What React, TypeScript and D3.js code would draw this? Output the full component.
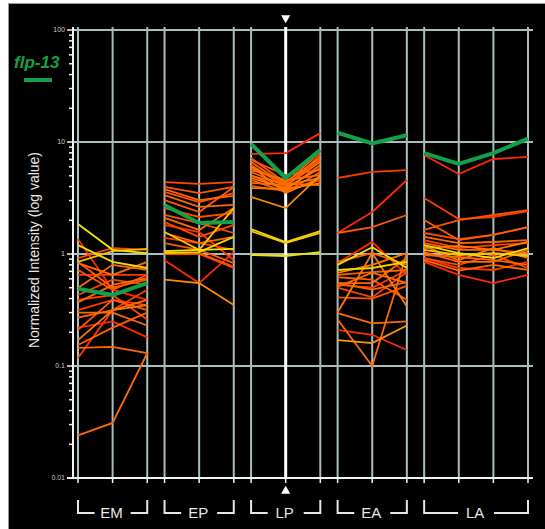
import React, { useEffect, useRef } from 'react';
import * as d3 from 'd3';

// stages and how many time points each has
const stages = ['EM', 'EP', 'LP', 'EA', 'LA'];
const stagePoints = [3, 3, 3, 3, 4];

// line values per stage, level = colour position (0 yellow -> 1 red)
const emLines = [
  { v: [1.85, 1.09, 1.02], level: 0 },
  { v: [1.2, 0.85, 0.75], level: 0.05 },
  { v: [0.85, 1.06, 1.11], level: 0.25 },
  { v: [1.36, 0.48, 0.39], level: 1 },
  { v: [0.92, 1.13, 1.09], level: 0.8 },
  { v: [0.83, 0.65, 0.85], level: 0.6 },
  { v: [0.65, 0.65, 0.65], level: 0.9 },
  { v: [0.5, 0.8, 0.72], level: 0.6 },
  { v: [0.43, 0.59, 0.53], level: 0.85 },
  { v: [0.37, 0.53, 0.61], level: 0.6 },
  { v: [0.316, 0.39, 0.35], level: 0.9 },
  { v: [0.3, 0.3, 0.23], level: 0.6 },
  { v: [0.22, 0.25, 0.18], level: 1 },
  { v: [0.17, 0.316, 0.35], level: 0.55 },
  { v: [0.118, 0.316, 0.48], level: 0.9 },
  { v: [0.154, 0.22, 0.3], level: 0.65 },
  { v: [0.145, 0.148, 0.13], level: 0.6 },
  { v: [0.024, 0.031, 0.13], level: 0.6 },
  { v: [0.85, 0.5, 0.59], level: 0.7 },
  { v: [0.72, 0.48, 0.65], level: 0.75 },
  { v: [0.39, 0.43, 0.26], level: 0.85 },
  { v: [0.27, 0.316, 0.39], level: 0.6 },
  { v: [0.21, 0.39, 0.316], level: 0.7 },
];

const epLines = [
  { v: [4.39, 4.22, 4.39], level: 0.8 },
  { v: [3.97, 3.5, 3.97], level: 0.7 },
  { v: [3.58, 2.91, 3.5], level: 0.75 },
  { v: [3.36, 2.63, 2.74], level: 0.6 },
  { v: [3.03, 2.37, 3.97], level: 0.7 },
  { v: [2.57, 2.14, 2.32], level: 0.8 },
  { v: [2.23, 1.89, 1.54], level: 0.75 },
  { v: [2.1, 1.64, 2.57], level: 0.6 },
  { v: [1.93, 1.42, 1.82], level: 0.85 },
  { v: [1.57, 1.09, 2.57], level: 0.2 },
  { v: [1.54, 1.25, 1.42], level: 0.6 },
  { v: [1.39, 1.25, 1.09], level: 0.9 },
  { v: [1.25, 1.09, 0.83], level: 0.7 },
  { v: [1.06, 1.09, 1.11], level: 0 },
  { v: [1.02, 1.04, 1.42], level: 0.1 },
  { v: [1.04, 1.02, 0.77], level: 0.75 },
  { v: [1.0, 1.0, 0.75], level: 0.85 },
  { v: [0.88, 0.55, 1.04], level: 1 },
  { v: [0.59, 0.55, 0.35], level: 0.45 },
  { v: [3.8, 3.03, 3.3], level: 0.65 },
  { v: [1.82, 1.57, 0.88], level: 0.9 },
];

const lpLines = [
  { v: [7.81, 7.97, 12.0], level: 1 },
  { v: [7.2, 4.3, 8.14], level: 0.7 },
  { v: [6.63, 4.13, 6.9], level: 0.65 },
  { v: [6.23, 3.97, 7.65], level: 0.7 },
  { v: [5.86, 4.39, 7.2], level: 0.6 },
  { v: [5.4, 4.05, 6.63], level: 0.65 },
  { v: [5.07, 3.73, 6.23], level: 0.6 },
  { v: [4.77, 3.88, 5.86], level: 0.55 },
  { v: [4.58, 3.58, 5.4], level: 0.65 },
  { v: [4.3, 4.13, 4.77], level: 0.6 },
  { v: [4.05, 3.65, 4.58], level: 0.7 },
  { v: [3.88, 3.8, 4.3], level: 0.55 },
  { v: [5.62, 4.58, 5.07], level: 0.6 },
  { v: [6.9, 5.07, 5.62], level: 0.75 },
  { v: [4.97, 4.22, 4.13], level: 0.6 },
  { v: [6.1, 3.5, 4.77], level: 0.55 },
  { v: [3.23, 2.57, 5.07], level: 0.45 },
  { v: [1.67, 1.28, 1.6], level: 0.05 },
  { v: [1.6, 1.25, 1.54], level: 0.15 },
  { v: [0.98, 0.96, 1.04], level: 0 },
];

const eaLines = [
  { v: [4.77, 5.4, 5.62], level: 0.9 },
  { v: [1.54, 2.37, 4.58], level: 1 },
  { v: [1.54, 1.74, 2.23], level: 0.7 },
  { v: [0.83, 1.28, 0.65], level: 1 },
  { v: [0.8, 1.15, 0.75], level: 0.05 },
  { v: [0.85, 1.02, 0.8], level: 0.6 },
  { v: [0.72, 0.75, 0.85], level: 0.1 },
  { v: [0.68, 0.8, 1.02], level: 0.55 },
  { v: [0.65, 0.69, 0.72], level: 0.65 },
  { v: [0.55, 0.55, 0.92], level: 0.6 },
  { v: [0.53, 0.5, 0.72], level: 0.9 },
  { v: [0.51, 0.68, 0.55], level: 0.6 },
  { v: [0.41, 0.4, 0.52], level: 0.75 },
  { v: [0.297, 0.24, 0.25], level: 0.6 },
  { v: [0.3, 1.02, 0.34], level: 0.55 },
  { v: [0.26, 0.1, 1.02], level: 0.6 },
  { v: [0.21, 0.19, 0.139], level: 1 },
  { v: [0.17, 0.16, 0.23], level: 0.4 },
  { v: [0.55, 0.48, 0.56], level: 0.65 },
  { v: [0.62, 0.59, 0.39], level: 0.7 },
  { v: [0.5, 0.41, 0.69], level: 0.85 },
];

const laLines = [
  { v: [7.65, 5.18, 7.05, 7.35], level: 1 },
  { v: [3.16, 2.05, 2.14, 2.42], level: 0.9 },
  { v: [2.01, 1.33, 1.48, 1.74], level: 0.7 },
  { v: [1.64, 2.01, 2.23, 2.47], level: 0.75 },
  { v: [1.54, 1.36, 1.48, 1.74], level: 0.8 },
  { v: [1.42, 1.25, 1.28, 1.33], level: 0.6 },
  { v: [1.33, 1.13, 1.2, 1.25], level: 0.85 },
  { v: [1.25, 1.09, 1.09, 1.02], level: 0.6 },
  { v: [1.2, 1.02, 0.92, 1.13], level: 0.05 },
  { v: [1.13, 1.18, 1.09, 1.28], level: 0.55 },
  { v: [1.09, 0.98, 1.02, 0.96], level: 0.2 },
  { v: [1.04, 0.85, 0.85, 1.09], level: 0.6 },
  { v: [0.92, 0.75, 0.72, 0.85], level: 0.95 },
  { v: [0.88, 0.71, 0.8, 0.72], level: 0.6 },
  { v: [0.85, 0.65, 0.55, 0.65], level: 1 },
  { v: [0.98, 0.94, 0.88, 0.8], level: 0.65 },
  { v: [1.18, 0.88, 1.13, 0.92], level: 0.6 },
  { v: [0.92, 0.8, 0.98, 0.75], level: 0.8 },
];

// the highlighted gene, one array per stage
const flp13 = [
  [0.49, 0.43, 0.55],
  [2.74, 1.89, 1.93],
  [9.6, 4.77, 8.48],
  [12.1, 9.73, 11.5],
  [7.97, 6.37, 7.97, 10.7],
];

const stageLines = [emLines, epLines, lpLines, eaLines, laLines];
const decades = [0.01, 0.1, 1, 10, 100];

const App = () => {
  const svgRef = useRef<SVGSVGElement>(null);

  useEffect(() => {
    const width = 545;
    const height = 529;
    const svg = d3.select(svgRef.current);
    svg.selectAll('*').remove();
    svg.attr('width', width).attr('height', height);

    const gridColor = '#a9bdbd';
    const axisColor = '#f2f2f2';
    const font = '"Liberation Sans", Arial, sans-serif';

    svg.append('rect')
      .attr('x', 8.5).attr('y', 3.5)
      .attr('width', width - 8).attr('height', height - 3)
      .attr('fill', '#000')
      .attr('stroke', '#9a9a9a');

    // slot index of each time point, half a step gap between stages
    const slots: number[][] = [];
    let pos = 0;
    stagePoints.forEach(n => {
      slots.push(d3.range(n).map(i => pos + i * 2));
      pos += (n - 1) * 2 + 1;
    });
    const allSlots = slots.flat();

    const x = d3.scaleLinear().domain([0, d3.max(allSlots) as number]).range([78, 528]);
    const y = d3.scaleLog().domain([0.01, 100]).range([478, 30]);

    const top = 27;
    const bottom = y(0.01);

    // horizontal grid
    svg.append('g')
      .selectAll('line')
      .data(decades.filter(d => d > 0.01))
      .enter()
      .append('line')
      .attr('x1', 73).attr('x2', 533)
      .attr('y1', d => y(d)).attr('y2', d => y(d))
      .attr('stroke', gridColor)
      .attr('stroke-width', 2);

    // vertical grid
    const midLP = slots[2][1];
    svg.append('g')
      .selectAll('line')
      .data(allSlots)
      .enter()
      .append('line')
      .attr('x1', d => x(d)).attr('x2', d => x(d))
      .attr('y1', top).attr('y2', bottom)
      .attr('stroke', d => (d === midLP ? '#fff' : gridColor))
      .attr('stroke-width', d => (d === midLP ? 3 : 2));

    // x axis line and ticks
    svg.append('line')
      .attr('x1', 67).attr('x2', 533)
      .attr('y1', bottom).attr('y2', bottom)
      .attr('stroke', axisColor)
      .attr('stroke-width', 2);
    svg.append('g')
      .selectAll('line')
      .data(allSlots)
      .enter()
      .append('line')
      .attr('x1', d => x(d)).attr('x2', d => x(d))
      .attr('y1', bottom).attr('y2', bottom + 5)
      .attr('stroke', axisColor)
      .attr('stroke-width', 1.5);

    // y axis
    const minors: number[] = [];
    decades.slice(0, -1).forEach(d => {
      for (let k = 2; k <= 9; k++) minors.push(d * k);
    });
    svg.append('line')
      .attr('x1', 73).attr('x2', 73)
      .attr('y1', top).attr('y2', bottom)
      .attr('stroke', axisColor)
      .attr('stroke-width', 2);
    svg.append('g')
      .selectAll('line')
      .data(minors)
      .enter()
      .append('line')
      .attr('x1', 69).attr('x2', 73)
      .attr('y1', d => y(d)).attr('y2', d => y(d))
      .attr('stroke', axisColor)
      .attr('stroke-width', 1.5);
    svg.append('g')
      .selectAll('line')
      .data(decades)
      .enter()
      .append('line')
      .attr('x1', 67).attr('x2', 73)
      .attr('y1', d => y(d)).attr('y2', d => y(d))
      .attr('stroke', axisColor)
      .attr('stroke-width', 1.5);
    svg.append('g')
      .selectAll('text')
      .data(decades)
      .enter()
      .append('text')
      .attr('x', 65)
      .attr('y', d => y(d) + 2)
      .attr('text-anchor', 'end')
      .attr('fill', '#cfcfcf')
      .style('font-family', font)
      .style('font-size', '7px')
      .text(d => String(d));

    svg.append('text')
      .attr('transform', `translate(39, 250) rotate(-90)`)
      .attr('text-anchor', 'middle')
      .attr('fill', '#e8e8e8')
      .style('font-family', font)
      .style('font-size', '14px')
      .text('Normalized Intensity (log value)');

    // LP markers
    const tri = d3.symbol().type(d3.symbolTriangle).size(36);
    svg.append('path')
      .attr('d', tri() as string)
      .attr('transform', `translate(${x(midLP)}, 18) rotate(180)`)
      .attr('fill', '#fff');
    svg.append('path')
      .attr('d', tri() as string)
      .attr('transform', `translate(${x(midLP)}, 491)`)
      .attr('fill', '#fff');

    // profiles
    const color = d3.scaleLinear<string>()
      .domain([0, 0.3, 0.6, 1])
      .range(['#f2e400', '#ffb000', '#ff6a00', '#ff2a00']);
    const line = d3.line<[number, number]>()
      .x(d => x(d[0]))
      .y(d => y(d[1]));

    stageLines.forEach((lines, g) => {
      const sorted = [...lines].sort((a, b) => b.level - a.level);
      svg.append('g')
        .selectAll('path')
        .data(sorted)
        .enter()
        .append('path')
        .attr('d', d => line(d.v.map((v, i) => [slots[g][i], v] as [number, number])))
        .attr('fill', 'none')
        .attr('stroke', d => color(d.level))
        .attr('stroke-width', 1.8);
    });

    svg.append('g')
      .selectAll('path')
      .data(flp13)
      .enter()
      .append('path')
      .attr('d', (d, g) => line(d.map((v, i) => [slots[g][i], v] as [number, number])))
      .attr('fill', 'none')
      .attr('stroke', '#14a048')
      .attr('stroke-width', 4);

    // stage brackets
    const by0 = 500;
    const by1 = 513;
    stages.forEach((s, g) => {
      const x0 = x(slots[g][0]);
      const x1 = x(slots[g][slots[g].length - 1]);
      const len = (x1 - x0) / 2 - 18;
      const gb = svg.append('g');
      gb.append('path')
        .attr('d', `M${x0},${by0}V${by1}H${x0 + len}M${x1},${by0}V${by1}H${x1 - len}`)
        .attr('fill', 'none')
        .attr('stroke', '#e6e6e6')
        .attr('stroke-width', 2);
      gb.append('text')
        .attr('x', (x0 + x1) / 2 - 1)
        .attr('y', 518)
        .attr('text-anchor', 'middle')
        .attr('fill', '#e6e6e6')
        .style('font-family', font)
        .style('font-size', '15px')
        .text(s);
    });

    // legend
    svg.append('text')
      .attr('x', 14)
      .attr('y', 68)
      .attr('fill', '#14a048')
      .style('font-family', font)
      .style('font-size', '17px')
      .style('font-weight', 'bold')
      .style('font-style', 'italic')
      .text('flp-13');
    svg.append('rect')
      .attr('x', 24).attr('y', 78)
      .attr('width', 28).attr('height', 4)
      .attr('fill', '#14a048');
  }, []);

  return (
    <svg ref={svgRef} style={{ position: 'absolute', left: 0, top: 0, display: 'block' }}></svg>
  );
};

export default App;
